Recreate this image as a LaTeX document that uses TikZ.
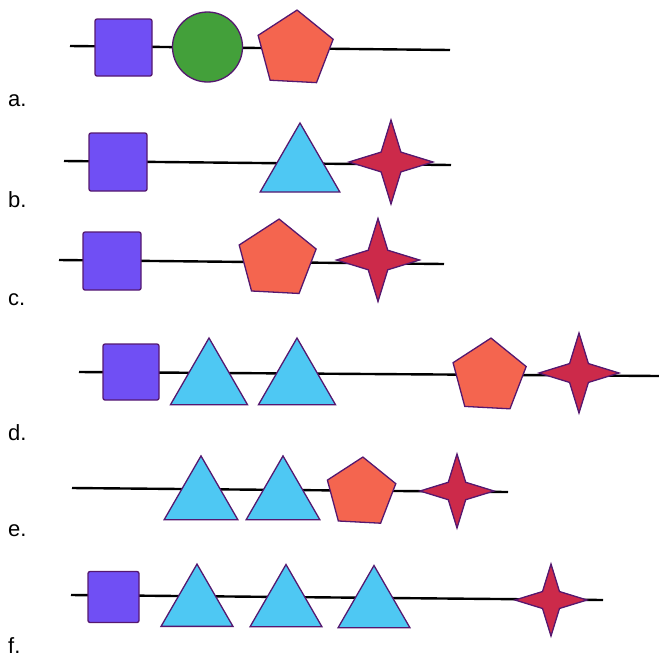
\documentclass[tikz,border=0pt]{standalone}
\usepackage{fontspec}
\setmainfont{Liberation Sans}
\usetikzlibrary{shapes.geometric}
\definecolor{sqc}{HTML}{704FF4}
\definecolor{grc}{HTML}{43A03A}
\definecolor{pnc}{HTML}{F4654F}
\definecolor{trc}{HTML}{4EC8F3}
\definecolor{stc}{HTML}{CC2A4A}
\definecolor{edge}{HTML}{55186F}
\tikzset{
  shp/.style={draw=edge, line width=1.3pt, inner sep=0pt, outer sep=0pt},
  sqbox/.style={shp, rectangle, fill=sqc, rounded corners=2pt, minimum size=#1},
  circ/.style={shp, circle, fill=grc, minimum size=#1},
  pent/.style={shp, regular polygon, regular polygon sides=5, fill=pnc, shape border rotate=-3, minimum size=#1},
  tri/.style={shp, regular polygon, regular polygon sides=3, fill=trc, minimum size=#1},
  starx/.style={shp, star, star points=4, star point ratio=3.0, fill=stc, minimum size=#1},
  axis/.style={line width=2.4pt, black},
  lab/.style={anchor=base west, inner sep=0pt, font=\fontsize{22}{24}\selectfont}
}
\begin{document}
\begin{tikzpicture}[x=1pt, y=-1pt]
\useasboundingbox (0,0) rectangle (659,657);
% row a
\coordinate (a0) at (70,46); \coordinate (a1) at (450,50);
\draw[axis] (a0) -- (a1);
\node[sqbox=57pt] (aS) at (123.5,47.5) {};
\node[circ=70pt] (aC) at (207.5,47) {};
\node[pent=79pt] (aP) at (295,49.5) {};
\node[lab] (la) at (8,106) {a.};
% row b
\coordinate (b0) at (64,161); \coordinate (b1) at (451,165);
\draw[axis] (b0) -- (b1);
\node[sqbox=58pt] (bS) at (118,162) {};
\node[tri=92pt] (bT) at (300,169) {};
\node[starx=84pt] (bX) at (391,162) {};
\node[lab] (lb) at (8,207) {b.};
% row c
\coordinate (c0) at (59,260); \coordinate (c1) at (444,264);
\draw[axis] (c0) -- (c1);
\node[sqbox=58pt] (cS) at (112,261) {};
\node[pent=81pt] (cP) at (277,259.5) {};
\node[starx=83pt] (cX) at (378,260) {};
\node[lab] (lc) at (8,305) {c.};
% row d
\coordinate (d0) at (79,372); \coordinate (d1) at (659,376);
\draw[axis] (d0) -- (d1);
\node[sqbox=56pt] (dS) at (131,372) {};
\node[tri=89pt] (dT1) at (209,382.5) {};
\node[tri=89pt] (dT2) at (297,382.5) {};
\node[pent=77pt] (dP) at (489,376.5) {};
\node[starx=80pt] (dX) at (579,373) {};
\node[lab] (ld) at (8,440) {d.};
% row e
\coordinate (e0) at (72,488); \coordinate (e1) at (508,492);
\draw[axis] (e0) -- (e1);
\node[tri=85pt] (eT1) at (201,498.4) {};
\node[tri=85pt] (eT2) at (283,498.4) {};
\node[pent=72pt] (eP) at (361,493) {};
\node[starx=74pt] (eX) at (457,491) {};
\node[lab] (le) at (8,536) {e.};
% row f
\coordinate (f0) at (71,595); \coordinate (f1) at (603,600);
\draw[axis] (f0) -- (f1);
\node[sqbox=51pt] (fS) at (113.5,597) {};
\node[tri=83pt] (fT1) at (197,605.6) {};
\node[tri=83pt] (fT2) at (286,606) {};
\node[tri=83pt] (fT3) at (374,607) {};
\node[starx=72pt] (fX) at (551,600) {};
\node[lab] (lf) at (8,653) {f.};
\end{tikzpicture}
\end{document}
